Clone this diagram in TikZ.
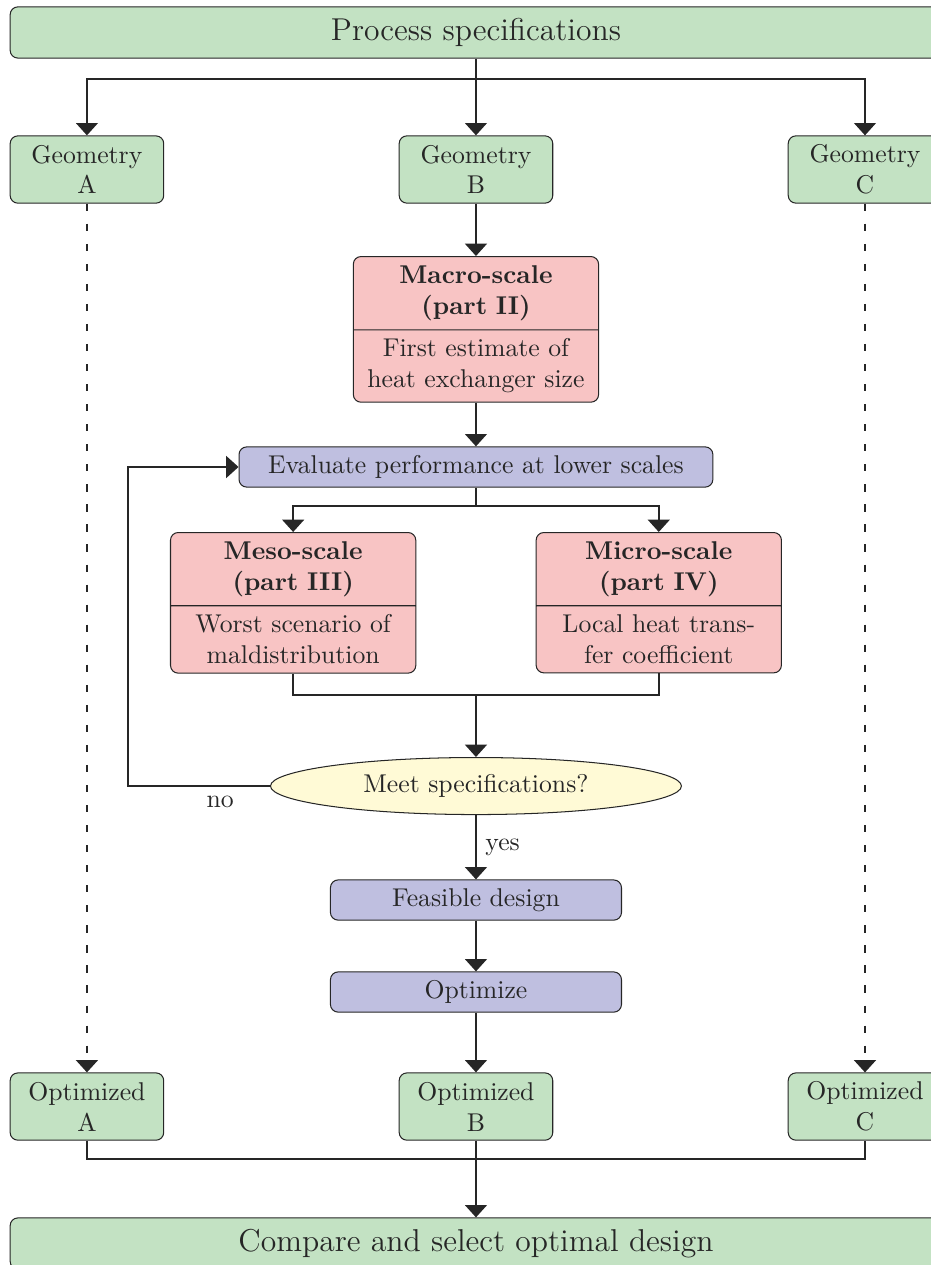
\documentclass[tikz,border=0pt]{standalone}
\usetikzlibrary{arrows.meta,shapes.geometric,shapes.multipart}

\definecolor{boxgreen}{RGB}{195,226,195}
\definecolor{boxred}{RGB}{248,196,196}
\definecolor{boxblue}{RGB}{191,191,224}
\definecolor{boxyellow}{RGB}{255,250,214}

\tikzstyle{base} = [draw=black!85, text=black!85, rounded corners=3pt, align=center, inner sep=0pt]
\tikzstyle{spec} = [base, fill=boxgreen, minimum width=12.74cm, minimum height=0.7cm, font=\fontsize{12.3}{15}\selectfont]
\tikzstyle{geom} = [base, fill=boxgreen, minimum width=2.1cm, minimum height=0.92cm]
\tikzstyle{task} = [base, fill=boxblue, minimum height=0.55cm]
\tikzstyle{part} = [draw=black!85, text=black!85, fill=boxred, rounded corners=3pt, rectangle split, rectangle split parts=2, text width=3.12cm, align=center]
\tikzstyle{check} = [draw=black!85, text=black!85, fill=boxyellow, ellipse, inner sep=1pt, minimum width=5.62cm, minimum height=0.78cm]
\tikzstyle{link} = [black!85, line width=0.7pt]
\tikzstyle{arr} = [link, -{Triangle[width=8.5pt,length=4.8pt]}]
\tikzstyle{skip} = [line width=0.9pt, dash pattern=on 2.8pt off 5pt]

\begin{document}
\begin{tikzpicture}
\useasboundingbox (-6.509,0) rectangle (6.222,-17.299);

%top
\node[spec] (spec) at (0,-0.444) {Process specifications};

%geometries
\node[geom] (geoA) at (-5.32,-2.318) {Geometry\\A};
\node[geom] (geoB) at (0,-2.318) {Geometry\\B};
\node[geom] (geoC) at (5.32,-2.318) {Geometry\\C};

%macro-scale
\node[part, anchor=north] (macro) at (0,-3.501)
    {\textbf{Macro-scale}\\\textbf{(part II)}
     \nodepart{two} First estimate of\\heat exchanger size};

\node[task, minimum width=6.48cm] (eval) at (0,-6.386) {Evaluate performance at lower scales};

%meso- and micro-scale
\node[part, anchor=north] (meso) at (-2.5,-7.275)
    {\textbf{Meso-scale}\\\textbf{(part III)}
     \nodepart{two} Worst scenario of\\maldistribution};
\node[part, anchor=north] (micro) at (2.5,-7.275)
    {\textbf{Micro-scale}\\\textbf{(part IV)}
     \nodepart{two} Local heat trans-\\fer coefficient};

\node[check] (meet) at (0,-10.749) {Meet specifications?};

\node[task, minimum width=3.98cm] (feas) at (0,-12.308) {Feasible design};
\node[task, minimum width=3.98cm] (opt) at (0,-13.566) {Optimize};

%optimized geometries
\node[geom] (optA) at (-5.32,-15.132) {Optimized\\A};
\node[geom] (optB) at (0,-15.132) {Optimized\\B};
\node[geom] (optC) at (5.32,-15.132) {Optimized\\C};

%bottom
\node[spec] (cmp) at (0,-17.005) {Compare and select optimal design};

%junctions
\coordinate (split) at (0,-1.08);
\coordinate (fork) at (0,-6.92);
\coordinate (merge) at (0,-9.504);
\coordinate (loop) at (-4.759,-10.749);
\coordinate (join) at (0,-15.849);

%connectors
\draw[arr] (spec) -- (geoB);
\draw[arr] (split) -| (geoA);
\draw[arr] (split) -| (geoC);
\draw[arr] (geoB) -- (macro);
\draw[arr] (macro) -- (eval);
\draw[link] (eval) -- (fork);
\draw[arr] (fork) -| (meso);
\draw[arr] (fork) -| (micro);
\draw[link] (meso.south) |- (merge) -| (micro.south);
\draw[arr] (merge) -- (meet);
\draw[arr] (meet) -- (loop)
    node[below, pos=0.35, text=black!85] {no}
    |- (eval);
\draw[arr] (meet) -- (feas)
    node[right, midway, text=black!85] {yes};
\draw[arr] (feas) -- (opt);
\draw[arr] (opt) -- (optB);
\draw[arr, skip] (geoA) -- (optA);
\draw[arr, skip] (geoC) -- (optC);
\draw[link] (optA.south) |- (join) -| (optC.south);
\draw[arr] (optB) -- (cmp);
\end{tikzpicture}
\end{document}
